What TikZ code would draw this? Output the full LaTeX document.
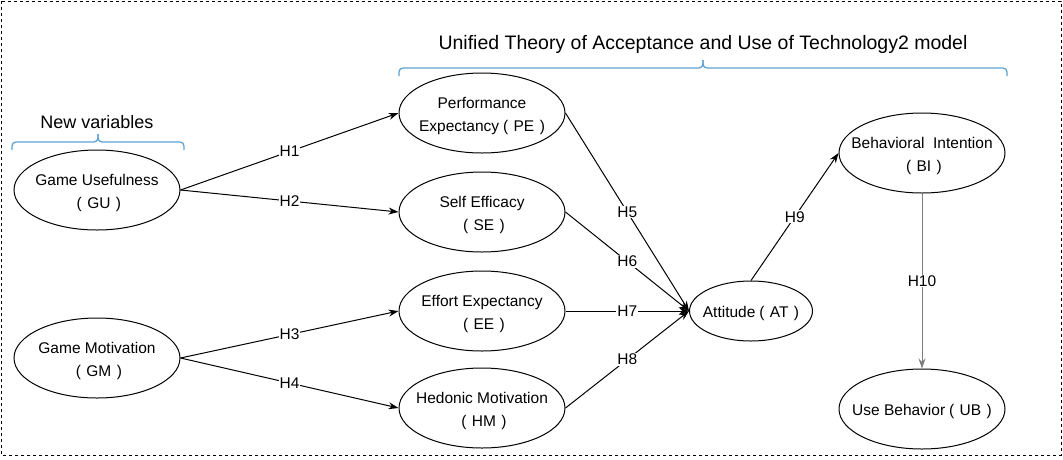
\documentclass[tikz,border=0pt]{standalone}
\usepackage{fontspec}
\setmainfont{Liberation Sans}
\usetikzlibrary{shapes.geometric,arrows.meta}
\definecolor{bracecol}{RGB}{95,163,212}
\definecolor{graylink}{RGB}{125,125,125}
\newcommand\plab[1]{\hspace{0.25em}(\hspace{0.35em}#1\hspace{0.35em})\hspace{0.25em}}
\newcommand\vtext[1]{\makebox[0pt][c]{\raisebox{-2pt}[\height][\depth]{\begin{tabular}{@{}c@{}}#1\end{tabular}}}}
\tikzset{
  var/.style={draw, ellipse, line width=1pt, inner sep=0pt,
    minimum width=166pt, minimum height=80pt,
    font=\fontsize{15.5}{23}\selectfont},
  link/.style={line width=1pt, -{Stealth[length=10pt,width=7pt]}},
  hlab/.style={fill=white, inner sep=1pt, font=\fontsize{15.5}{18}\selectfont},
  brace/.style={draw=bracecol, line width=1.3pt, rounded corners=4pt},
  bracetext/.style={font=\fontsize{18}{21}\selectfont}
}
\begin{document}
\begin{tikzpicture}[x=1pt,y=-1pt]
\useasboundingbox (0,0) rectangle (1063,459);
\draw[line width=1pt, dash pattern=on 3pt off 3pt] (1,1) rectangle (1061,455);

% nodes
\node[var] (GU) at (97,190) {\vtext{Game Usefulness\\\plab{GU}}};
\node[var] (GM) at (97,358) {\vtext{Game Motivation\\\plab{GM}}};
\node[var] (PE) at (482,113) {\vtext{Performance\\Expectancy\plab{PE}}};
\node[var] (SE) at (482,212) {\vtext{Self Efficacy\\\plab{SE}}};
\node[var] (EE) at (482,311) {\vtext{Effort Expectancy\\\plab{EE}}};
\node[var] (HM) at (482,408) {\vtext{Hedonic Motivation\\\plab{HM}}};
\node[var, minimum width=123pt, minimum height=60pt] (AT) at (751,311) {\vtext{Attitude\plab{AT}}};
\node[var] (BI) at (922,153) {\vtext{Behavioral\ \ Intention\\\plab{BI}}};
\node[var] (UB) at (922,409) {\vtext{Use Behavior\plab{UB}}};

% braces
\node[bracetext] (t1) at (97,122) {New variables};
\node[bracetext, font=\fontsize{19.5}{22}\selectfont] (t2) at (703,44) {Unified Theory of Acceptance and Use of Technology2 model};
\coordinate (b1tip) at (98,134);
\coordinate (b2tip) at (703,60);
\draw[brace] (12,150) -- (12,142) -- (98,142) -- (b1tip);
\draw[brace] (b1tip) -- (98,142) -- (184,142) -- (184,150);
\draw[brace] (399,76) -- (399,68) -- (703,68) -- (b2tip);
\draw[brace] (b2tip) -- (703,68) -- (1007,68) -- (1007,76);

% connectors
\draw[link] (GU.east) -- node[hlab]{H1} (PE.west);
\draw[link] (GU.east) -- node[hlab]{H2} (SE.west);
\draw[link] (GM.east) -- node[hlab]{H3} (EE.west);
\draw[link] (GM.east) -- node[hlab]{H4} (HM.west);
\draw[link] (PE.east) -- node[hlab]{H5} (AT.west);
\draw[link] (SE.east) -- node[hlab]{H6} (AT.west);
\draw[link] (EE.east) -- node[hlab]{H7} (AT.west);
\draw[link] (HM.east) -- node[hlab]{H8} (AT.west);
\draw[link] (AT.north) -- node[hlab]{H9} (BI.west);
\draw[link, draw=graylink] (BI.south) -- node[hlab]{H10} (UB.north);
\end{tikzpicture}
\end{document}
